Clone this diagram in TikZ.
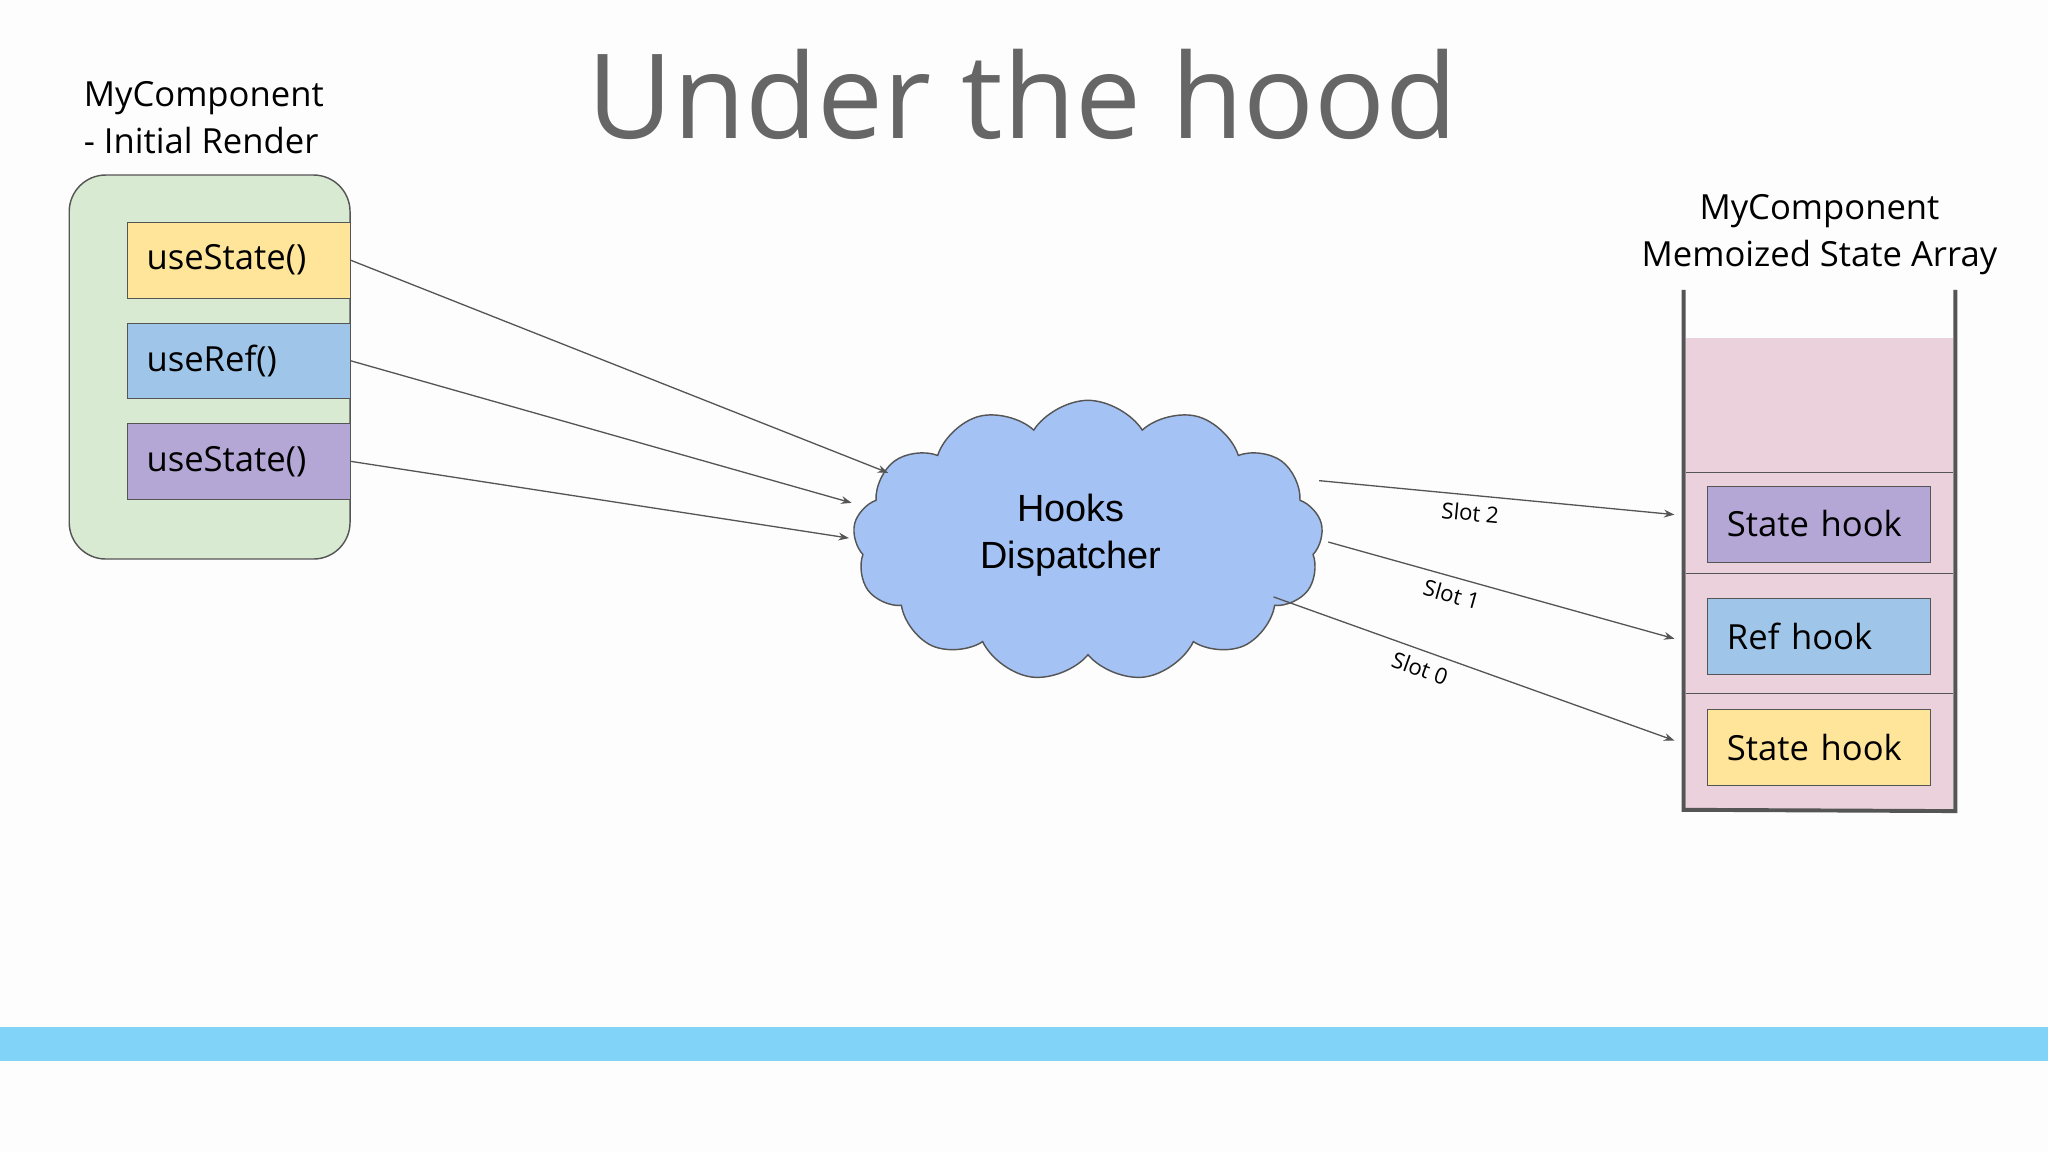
\documentclass[tikz,border=0pt]{standalone}
\usepackage{fontspec}
\setmainfont{Open Sans}
\newfontfamily\arialf{Liberation Sans}
\usetikzlibrary{shapes.symbols,arrows.meta}
\definecolor{bg}{HTML}{FDFDFD}
\definecolor{gr}{HTML}{D9EAD3}
\definecolor{ye}{HTML}{FFE599}
\definecolor{bl}{HTML}{9FC5E8}
\definecolor{pu}{HTML}{B4A7D6}
\definecolor{pk}{HTML}{EAD1DC}
\definecolor{cl}{HTML}{A4C2F4}
\definecolor{bar}{HTML}{81D4F7}
\definecolor{ttl}{HTML}{666666}
\definecolor{ln}{HTML}{555555}
\tikzset{
  hookbox/.style={draw=ln,minimum width=171pt,minimum height=58pt,anchor=north west,inner sep=0pt,font=\fontsize{26.5}{28}\selectfont,text width=165pt,align=left},
  conn/.style={draw=ln,-{Stealth[length=8pt,width=6pt]},line width=1pt},
  slot/.style={font=\fontsize{17}{19}\selectfont,sloped,below=3pt}
}
\begin{document}
\begin{tikzpicture}[x=1pt,y=-1pt]
\fill[bg] (0,0) rectangle (1568,882);
\useasboundingbox (0,0) rectangle (1568,882);
\fill[bar] (0,786) rectangle (1568,812);
\node[text=ttl,font=\fontsize{90}{100}\selectfont] (title) at (783,72) {Under the hood};
\node[anchor=north west,align=left,font=\fontsize{26.5}{36}\selectfont,inner sep=0pt] (lbl) at (64,62) {MyComponent\\- Initial Render};
\draw[ln,fill=gr,rounded corners=28pt,line width=1.1pt] (53,134) rectangle (268,428);
\node[hookbox,fill=ye] (s1) at (97,170) {\hspace*{12pt}useState()};
\node[hookbox,fill=bl] (r1) at (97,247) {\hspace*{12pt}useRef()};
\node[hookbox,fill=pu] (s2) at (97,324) {\hspace*{12pt}useState()};
\node[cloud,cloud puffs=13,cloud puff arc=115,aspect=1.7,draw=ln,fill=cl,minimum width=360pt,minimum height=215pt,line width=1.1pt] (cloud) at (833,414) {};
\node[font=\arialf\fontsize{29}{36}\selectfont,align=center] (ct) at (820,410) {Hooks\\Dispatcher};
\coordinate (a1) at (680,362);
\coordinate (a2) at (652,385);
\coordinate (a3) at (650,412);
\draw[conn] (s1.east) -- (a1);
\draw[conn] (r1.east) -- (a2);
\draw[conn] (s2.east) -- (a3);
% right container
\fill[pk] (1291,259) rectangle (1495,620);
\foreach \y in {362,439,531} \draw[ln,line width=1pt] (1291,\y) -- (1495,\y);
\draw[ln,line width=3pt] (1289,222) -- (1289,620) -- (1497,621) -- (1497,222);
\node[align=center,font=\fontsize{26.5}{36}\selectfont] (rl) at (1393,180) {MyComponent\\Memoized State Array};
\node[hookbox,fill=pu] (h2) at (1307,372) {\hspace*{12pt}State hook};
\node[hookbox,fill=bl] (h1) at (1307,458) {\hspace*{12pt}Ref hook};
\node[hookbox,fill=ye] (h0) at (1307,543) {\hspace*{12pt}State hook};
\coordinate (b2a) at (1010,368); \coordinate (b2) at (1282,394);
\coordinate (b1a) at (1017,415); \coordinate (b1) at (1282,489);
\coordinate (b0a) at (975,457); \coordinate (b0) at (1282,567);
\draw[conn] (b2a) -- node[slot,pos=0.43] {Slot 2} (b2);
\draw[conn] (b1a) -- node[slot,pos=0.37] {Slot 1} (b1);
\draw[conn] (b0a) -- node[slot,pos=0.38] {Slot 0} (b0);
\end{tikzpicture}
\end{document}
